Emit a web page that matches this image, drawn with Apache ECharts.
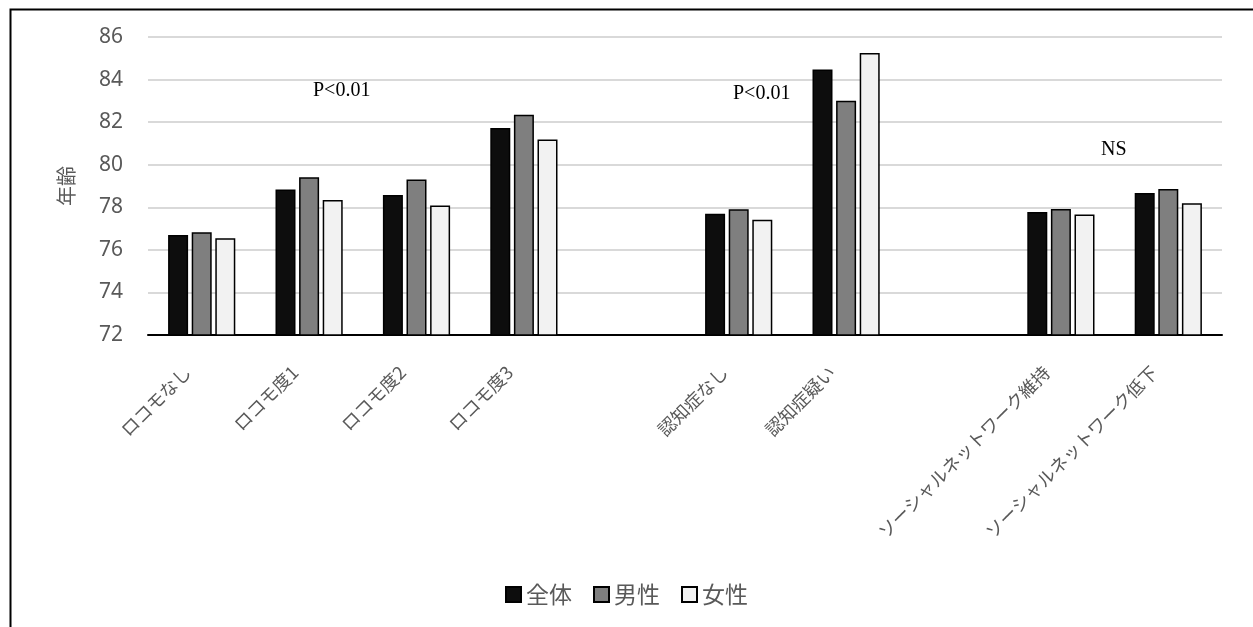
<!DOCTYPE html>
<html>
<head>
<meta charset="utf-8">
<script src="https://cdn.jsdelivr.net/npm/echarts@6/dist/echarts.min.js"></script>
<style>
  html, body { margin: 0; padding: 0; background: #fff; }
  #main { width: 1253px; height: 627px; }
</style>
</head>
<body>
<div id="main"></div>
<script>
// categories (blank slots make the gaps between groups)
var categories = ['ロコモなし', 'ロコモ度1', 'ロコモ度2', 'ロコモ度3', '',
  '認知症なし', '認知症疑い', '', 'ソーシャルネットワーク維持', 'ソーシャルネットワーク低下'];
var seriesNames = ['全体', '男性', '女性'];
var zentai = [76.70, 78.84, 78.58, 81.73, '-', 77.70, 84.47, '-', 77.78, 78.67];
var dansei = [76.83, 79.41, 79.31, 82.35, '-', 77.91, 83.00, '-', 77.92, 78.86];
var josei  = [76.55, 78.34, 78.08, 81.19, '-', 77.42, 85.25, '-', 77.66, 78.19];
var yTicks = [72, 86, 2]; // min, max, interval
var notes = ['P<0.01', 'P<0.01', 'NS'];

var colors = ['#0d0d0d', '#7f7f7f', '#f2f2f2'];
var jp = '"Noto Sans CJK JP", "Noto Sans", sans-serif';

var myChart = echarts.init(document.getElementById('main'));

function bar(name, data, i) {
  return {
    name: name,
    type: 'bar',
    data: data,
    barWidth: 20,
    barGap: '18%',
    itemStyle: { color: colors[i], borderColor: '#000', borderWidth: 1.5 }
  };
}

var noteStyle = { fontFamily: '"Liberation Serif", "DejaVu Serif", serif', fontSize: 20, fill: '#000' };

var option = {
  animation: false,
  backgroundColor: '#fff',
  grid: { left: 148, right: 31, top: 37, bottom: 292 },
  legend: {
    bottom: 16,
    left: 'center',
    itemWidth: 15,
    itemHeight: 15,
    itemGap: 21,
    icon: 'rect',
    textStyle: { fontSize: 23, color: '#595959', fontFamily: jp },
    data: seriesNames
  },
  xAxis: {
    type: 'category',
    data: categories,
    axisTick: { show: false },
    axisLine: { lineStyle: { color: '#000', width: 2 } },
    axisLabel: {
      interval: 0,
      rotate: 45,
      margin: 20,
      padding: [0, 20, 0, 0],
      fontSize: 18,
      color: '#595959',
      fontFamily: jp
    }
  },
  yAxis: {
    type: 'value',
    min: yTicks[0],
    max: yTicks[1],
    interval: yTicks[2],
    name: '年齢',
    nameLocation: 'middle',
    nameRotate: 90,
    nameGap: 72,
    nameTextStyle: { fontSize: 20, color: '#595959', fontFamily: jp },
    axisLine: { show: false },
    axisTick: { show: false },
    axisLabel: { fontSize: 21, color: '#595959', margin: 25, fontFamily: '"Noto Sans", sans-serif' },
    splitLine: { lineStyle: { color: '#d9d9d9', width: 2 } }
  },
  graphic: [
    { type: 'rect', left: 8, top: 7, shape: { width: 1300, height: 700 },
      style: { fill: 'none', stroke: '#000', lineWidth: 2 }, silent: true },
    { type: 'text', left: 313, top: 81, style: Object.assign({ text: notes[0] }, noteStyle) },
    { type: 'text', left: 733, top: 84, style: Object.assign({ text: notes[1] }, noteStyle) },
    { type: 'text', left: 1101, top: 140, style: Object.assign({ text: notes[2] }, noteStyle) }
  ],
  series: [
    bar(seriesNames[0], zentai, 0),
    bar(seriesNames[1], dansei, 1),
    bar(seriesNames[2], josei, 2)
  ]
};

myChart.setOption(option);
</script>
</body>
</html>
